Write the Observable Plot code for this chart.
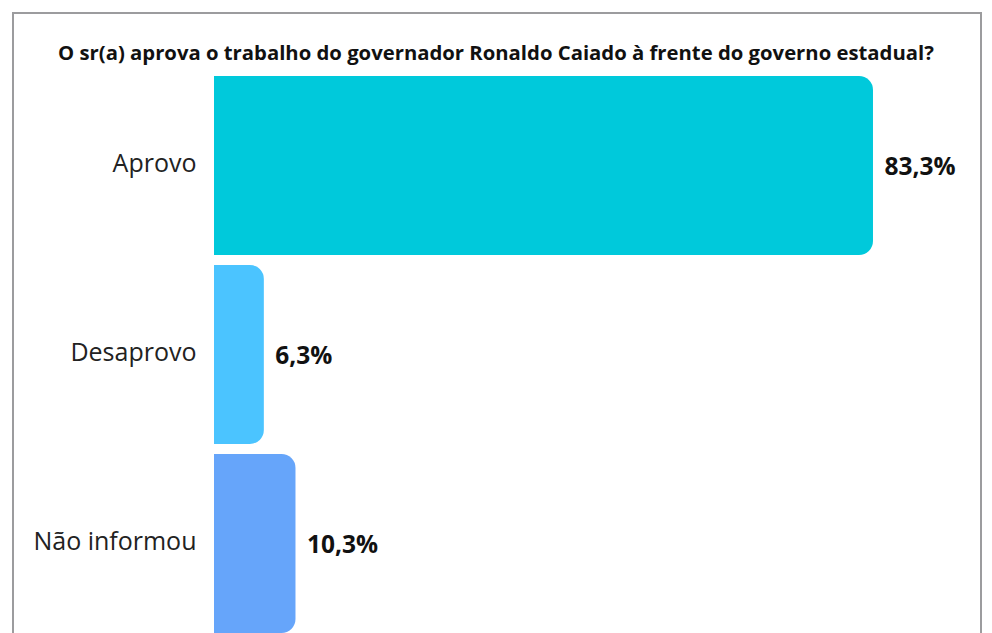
<!DOCTYPE html>
<html>
<head>
<meta charset="utf-8">
<script src="https://cdn.jsdelivr.net/npm/d3@7"></script>
<script src="https://cdn.jsdelivr.net/npm/@observablehq/plot@0.6"></script>
<style>
  html, body { margin: 0; padding: 0; background: #fff; overflow: hidden; }
  body { width: 992px; height: 633px; position: relative; font-family: "Open Sans", "Noto Sans", sans-serif; }
  #frame { position: absolute; left: 12px; top: 12px; width: 970px; height: 700px; border: 2px solid #9c9c9e; box-sizing: border-box; }
  #title { position: absolute; left: 0; top: 38px; width: 992px; text-align: center; font-weight: 700; font-size: 20.3px; line-height: normal; color: #111; white-space: nowrap; }
  #chart { position: absolute; left: 0; top: 0; }
</style>
</head>
<body>
<div id="frame"></div>
<div id="title">O sr(a) aprova o trabalho do governador Ronaldo Caiado à frente do governo estadual?</div>
<div id="chart"></div>
<script>
const categories = ["Aprovo", "Desaprovo", "Não informou"];
const values = [83.3, 6.3, 10.3];
const valueLabels = ["83,3%", "6,3%", "10,3%"];
const colors = ["#00C9DB", "#4BC4FF", "#66A5FA"];

const data = categories.map((c, i) => ({category: c, value: values[i], label: valueLabels[i]}));

const chart = Plot.plot({
  width: 992,
  height: 633,
  marginLeft: 214,
  marginTop: 0,
  marginBottom: 0,
  marginRight: 0,
  style: {background: "transparent", fontFamily: "'Open Sans', 'Noto Sans', sans-serif", overflow: "visible"},
  x: {domain: [0, 100], range: [214, 1005.1], axis: null},
  y: {domain: categories, range: [71, 638], paddingInner: 0.053, paddingOuter: 0.026, label: null},
  color: {domain: categories, range: colors},
  marks: [
    Plot.barX(data, {y: "category", x: "value", fill: "category", rx: 14}),
    Plot.barX(data, {y: "category", x1: 0, x2: d => d.value / 2, fill: "category"}),
    Plot.text(data, {y: "category", x: "value", text: "label", dx: 11, dy: 1, textAnchor: "start", fontWeight: "bold", fontSize: 24.5, fill: "#111"}),
    Plot.axisY({tickSize: 0, tickPadding: 18, fontSize: 25, fill: "#222", label: null, dy: -2})
  ]
});
document.getElementById("chart").appendChild(chart);
</script>
</body>
</html>
